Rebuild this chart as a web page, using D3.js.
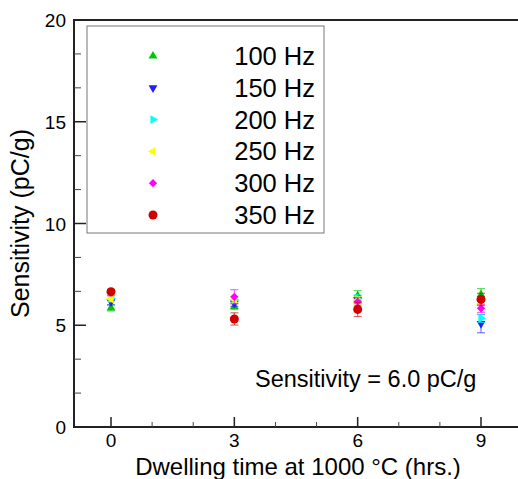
<!DOCTYPE html>
<html>
<head>
<meta charset="utf-8">
<script src="https://cdn.jsdelivr.net/npm/d3@7"></script>
<style>
  body { margin: 0; background: #fff; }
  text { font-family: "Liberation Sans", Arial, sans-serif; }
</style>
</head>
<body>
<div class="chart"></div>
<script>
// sensitivity vs dwelling time

const width = 518
const height = 479

const hours = [0, 3, 6, 9]
const freqs = ['100 Hz', '150 Hz', '200 Hz', '250 Hz', '300 Hz', '350 Hz']
const s100 = [5.85, 5.92, 6.45, 6.5]
const e100 = [0.15, 0.15, 0.25, 0.3]
const s150 = [6.15, 6.08, 6.25, 5.08]
const e150 = [0.15, 0.15, 0.2, 0.45]
const s200 = [6.32, 6.24, 6.3, 5.34]
const e200 = [0.15, 0.15, 0.2, 0.2]
const s250 = [6.3, 6.28, 6.22, 6.05]
const e250 = [0.15, 0.15, 0.2, 0.2]
const s300 = [6.6, 6.4, 6.16, 5.83]
const e300 = [0.15, 0.35, 0.2, 0.2]
const s350 = [6.65, 5.31, 5.78, 6.27]
const e350 = [0.1, 0.3, 0.35, 0.3]
const yTicks = [0, 5, 10, 15, 20]
const xTicks = [0, 3, 6, 9]

const values = [s100, s150, s200, s250, s300, s350]
const errors = [e100, e150, e200, e250, e300, e350]
const colors = ['#00c800', '#2020ff', '#00ffff', '#ffff00', '#ff00ff', '#d00000']
// symbol type + rotation
const shapes = [
  [d3.symbolTriangle, 0],
  [d3.symbolTriangle, 180],
  [d3.symbolTriangle, 90],
  [d3.symbolTriangle, -90],
  [d3.symbolSquare, 45],
  [d3.symbolCircle, 0]
]
const sizes = [34, 34, 34, 34, 34, 64]

const series = freqs.map((f, i) => ({
  name: f,
  color: colors[i],
  shape: shapes[i],
  size: sizes[i],
  points: hours.map((h, j) => ({ x: h, y: values[i][j], e: errors[i][j] }))
}))

const mLeft = 74, mTop = 20, mBottom = 427

const x = d3.scaleLinear().domain([-0.9, 9.9]).range([mLeft, width])
const y = d3.scaleLinear().domain([0, 20]).range([mBottom, mTop])

const svg = d3.select('.chart')
  .append('svg')
  .attr('width', width)
  .attr('height', height)
  .attr('viewBox', [0, 0, width, height])

// frame
svg.append('rect')
  .attr('x', mLeft).attr('y', mTop)
  .attr('width', width - mLeft + 10).attr('height', mBottom - mTop)
  .attr('fill', 'none').attr('stroke', '#222').attr('stroke-width', 2)

// y axis ticks (inside)
const yMinor = d3.range(0, 20, 5 / 3).filter(v => Math.abs(v % 5) > 0.01 && Math.abs(v % 5 - 5) > 0.01)
svg.append('g').selectAll('line')
  .data(yTicks).enter().append('line')
  .attr('x1', mLeft).attr('x2', mLeft + 12)
  .attr('y1', d => y(d)).attr('y2', d => y(d))
  .attr('stroke', '#222').attr('stroke-width', 1.5)
svg.append('g').selectAll('line')
  .data(yMinor).enter().append('line')
  .attr('x1', mLeft).attr('x2', mLeft + 7)
  .attr('y1', d => y(d)).attr('y2', d => y(d))
  .attr('stroke', '#444').attr('stroke-width', 1)
svg.append('g').selectAll('text')
  .data(yTicks).enter().append('text')
  .attr('x', mLeft - 8).attr('y', d => y(d) + 7)
  .attr('text-anchor', 'end')
  .attr('font-size', 19)
  .text(d => d)

// x axis ticks (inside)
const xMinor = [1, 2, 4, 5, 7, 8]
svg.append('g').selectAll('line')
  .data(xTicks).enter().append('line')
  .attr('x1', d => x(d)).attr('x2', d => x(d))
  .attr('y1', mBottom).attr('y2', mBottom - 10)
  .attr('stroke', '#222').attr('stroke-width', 1.5)
svg.append('g').selectAll('line')
  .data(xMinor).enter().append('line')
  .attr('x1', d => x(d)).attr('x2', d => x(d))
  .attr('y1', mBottom).attr('y2', mBottom - 5)
  .attr('stroke', '#444').attr('stroke-width', 1)
svg.append('g').selectAll('text')
  .data(xTicks).enter().append('text')
  .attr('x', d => x(d)).attr('y', mBottom + 20)
  .attr('text-anchor', 'middle')
  .attr('font-size', 19)
  .text(d => d)

// axis titles
svg.append('text')
  .attr('transform', `translate(29, ${(mTop + mBottom) / 2}) rotate(-90)`)
  .attr('text-anchor', 'middle')
  .attr('font-size', 25)
  .text('Sensitivity (pC/g)')

svg.append('text')
  .attr('x', 298).attr('y', 475)
  .attr('text-anchor', 'middle')
  .attr('font-size', 24)
  .text('Dwelling time at 1000 °C (hrs.)')

svg.append('text')
  .attr('x', 255).attr('y', 387)
  .attr('font-size', 23.5)
  .text('Sensitivity = 6.0 pC/g')

// data
const sym = s => d3.symbol().type(s.shape[0]).size(s.size)

series.forEach(s => {
  const g = svg.append('g')
  const bars = g.selectAll('g').data(s.points).enter().append('g')
    .attr('stroke', s.color).attr('stroke-opacity', 0.6).attr('stroke-width', 1.2)
  bars.append('line')
    .attr('x1', d => x(d.x)).attr('x2', d => x(d.x))
    .attr('y1', d => y(d.y - d.e)).attr('y2', d => y(d.y + d.e))
  bars.append('line')
    .attr('x1', d => x(d.x) - 4).attr('x2', d => x(d.x) + 4)
    .attr('y1', d => y(d.y - d.e)).attr('y2', d => y(d.y - d.e))
  bars.append('line')
    .attr('x1', d => x(d.x) - 4).attr('x2', d => x(d.x) + 4)
    .attr('y1', d => y(d.y + d.e)).attr('y2', d => y(d.y + d.e))
  g.selectAll('path').data(s.points).enter().append('path')
    .attr('d', sym(s))
    .attr('transform', d => `translate(${x(d.x)}, ${y(d.y)}) rotate(${s.shape[1]})`)
    .attr('fill', s.color)
})

// legend
const legend = svg.append('g')
legend.append('rect')
  .attr('x', 87).attr('y', 26)
  .attr('width', 237).attr('height', 207)
  .attr('fill', '#fff').attr('stroke', '#777').attr('stroke-width', 1)

const rows = legend.selectAll('g').data(series).enter().append('g')
  .attr('transform', (d, i) => `translate(0, ${56 + i * 31.8})`)
rows.append('path')
  .attr('d', d => sym(d)())
  .attr('transform', d => `translate(153, 0) rotate(${d.shape[1]})`)
  .attr('fill', d => d.color)
rows.append('text')
  .attr('x', 315).attr('y', 9)
  .attr('text-anchor', 'end')
  .attr('font-size', 25.5)
  .text(d => d.name)
</script>
</body>
</html>
